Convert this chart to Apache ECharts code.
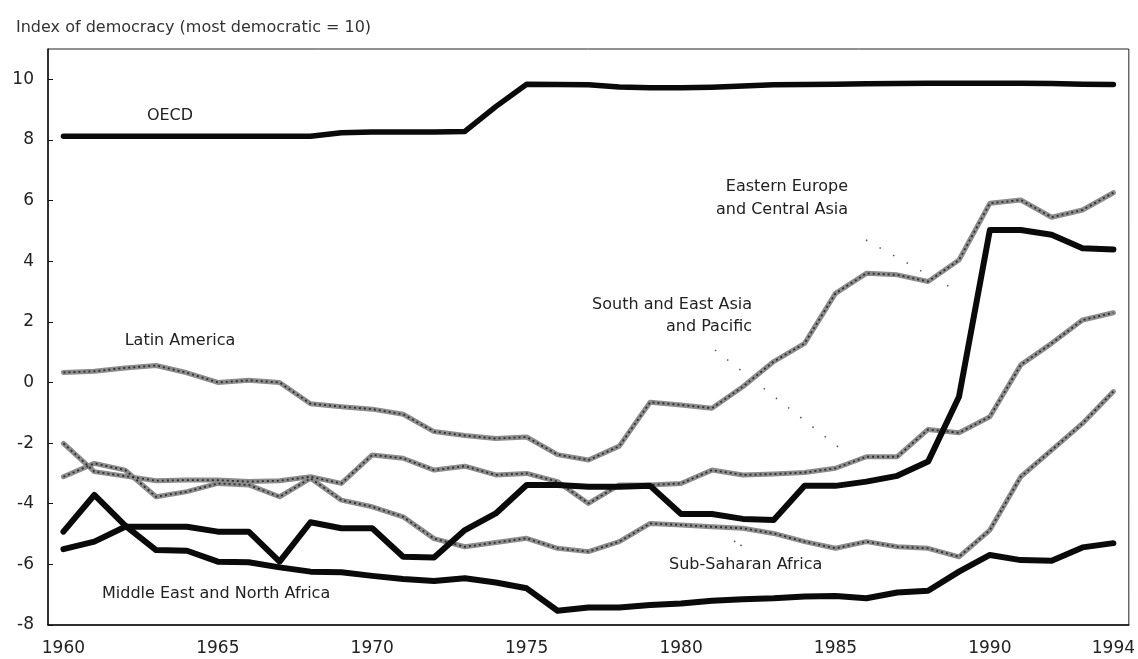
<!DOCTYPE html>
<html>
<head>
<meta charset="utf-8">
<script src="https://cdn.jsdelivr.net/npm/echarts@6/dist/echarts.min.js"></script>
<style>html,body{margin:0;padding:0;background:#fff}#c{width:1138px;height:659px}</style>
</head>
<body>
<div id="c"></div>
<script>
const years = ['1960','1961','1962','1963','1964','1965','1966','1967','1968','1969','1970','1971','1972','1973','1974','1975','1976','1977','1978','1979','1980','1981','1982','1983','1984','1985','1986','1987','1988','1989','1990','1991','1992','1993','1994'];
const labeledYears = ['1960','1965','1970','1975','1980','1985','1990','1994'];

const oecd = [8.12,8.12,8.12,8.12,8.12,8.12,8.12,8.12,8.12,8.24,8.26,8.26,8.26,8.28,9.1,9.84,9.83,9.82,9.75,9.72,9.72,9.74,9.78,9.82,9.83,9.84,9.85,9.86,9.87,9.87,9.87,9.87,9.86,9.84,9.83];
const latinAmerica = [0.33,0.37,0.48,0.56,0.32,0.0,0.07,0.0,-0.7,-0.8,-0.88,-1.05,-1.62,-1.75,-1.85,-1.8,-2.38,-2.56,-2.1,-0.65,-0.74,-0.85,-0.14,0.69,1.29,2.94,3.6,3.55,3.33,4.04,5.91,6.02,5.45,5.69,6.26];
const southEastAsia = [-2.01,-2.94,-3.09,-3.24,-3.22,-3.22,-3.27,-3.24,-3.11,-3.33,-2.39,-2.5,-2.89,-2.76,-3.05,-3.0,-3.27,-3.99,-3.38,-3.38,-3.33,-2.89,-3.05,-3.02,-2.97,-2.83,-2.45,-2.45,-1.55,-1.66,-1.13,0.58,1.29,2.06,2.3];
const subSaharan = [-3.11,-2.67,-2.89,-3.77,-3.6,-3.33,-3.38,-3.77,-3.16,-3.88,-4.1,-4.43,-5.15,-5.42,-5.28,-5.14,-5.47,-5.58,-5.25,-4.65,-4.7,-4.76,-4.81,-4.98,-5.25,-5.47,-5.25,-5.42,-5.47,-5.75,-4.87,-3.11,-2.23,-1.35,-0.3];
const easternEurope = [-5.5,-5.25,-4.76,-4.76,-4.76,-4.92,-4.92,-5.91,-4.61,-4.81,-4.81,-5.75,-5.77,-4.87,-4.32,-3.38,-3.38,-3.44,-3.44,-3.41,-4.34,-4.34,-4.5,-4.54,-3.41,-3.41,-3.27,-3.08,-2.61,-0.47,5.03,5.03,4.87,4.43,4.39];
const middleEast = [-4.92,-3.71,-4.72,-5.53,-5.55,-5.91,-5.93,-6.1,-6.24,-6.26,-6.38,-6.48,-6.55,-6.46,-6.6,-6.79,-7.53,-7.42,-7.42,-7.34,-7.29,-7.2,-7.15,-7.12,-7.06,-7.04,-7.12,-6.93,-6.87,-6.24,-5.69,-5.86,-5.88,-5.44,-5.3];

const FONT = 'DejaVu Sans';

function blackLine(name, data, w) {
  return { name, type: 'line', data, symbol: 'none', z: 5,
    lineStyle: { color: '#0a0a0a', width: w, cap: 'round', join: 'round' } };
}
function grayLine(name, data) {
  return [
    { name, type: 'line', data, symbol: 'none', z: 3,
      lineStyle: { color: '#8c8c8c', width: 5, cap: 'round', join: 'round' } },
    { name: name + ' texture', type: 'line', data, symbol: 'none', z: 4,
      lineStyle: { color: '#2e2e2e', width: 1.8, type: [2, 3], join: 'round' } }
  ];
}

const chart = echarts.init(document.getElementById('c'), null, { renderer: 'canvas' });
const showIdx = (i, v) => labeledYears.indexOf(v) >= 0;

chart.setOption({
  animation: false,
  backgroundColor: '#fff',
  title: {
    text: 'Index of democracy (most democratic = 10)',
    left: 11, top: 15,
    textStyle: { fontFamily: FONT, fontSize: 16, fontWeight: 'normal', color: '#333' }
  },
  grid: { left: 48, right: 7, top: 49, bottom: 34, show: true, borderColor: '#222', borderWidth: 1 },
  xAxis: {
    type: 'category', data: years, boundaryGap: true,
    axisLine: { onZero: false, lineStyle: { color: '#111', width: 1.5 } },
    axisTick: { inside: true, length: 5, alignWithLabel: true, interval: showIdx, lineStyle: { color: '#111' } },
    axisLabel: { interval: showIdx, margin: 15, fontFamily: FONT, fontSize: 17, color: '#222' },
    splitLine: { show: false }
  },
  yAxis: {
    type: 'value', min: -8, max: 11, interval: 2,
    axisLine: { show: true, onZero: false, lineStyle: { color: '#111', width: 1.5 } },
    axisTick: { show: true, inside: true, length: 5, lineStyle: { color: '#111' } },
    axisLabel: { margin: 14, fontFamily: FONT, fontSize: 17, color: '#222', showMaxLabel: false,
      formatter: v => (v > 10 ? '' : String(v)) },
    splitLine: { show: false }
  },
  series: [
    ...grayLine('Latin America', latinAmerica),
    ...grayLine('South and East Asia and Pacific', southEastAsia),
    ...grayLine('Sub-Saharan Africa', subSaharan),
    blackLine('OECD', oecd, 5.5),
    blackLine('Eastern Europe and Central Asia', easternEurope, 6),
    blackLine('Middle East and North Africa', middleEast, 6)
  ],
  graphic: [
    { type: 'text', style: { x: 170, y: 116, text: 'OECD', align: 'center', verticalAlign: 'middle', font: '16px "DejaVu Sans"', fill: '#222' } },
    { type: 'text', style: { x: 180, y: 341, text: 'Latin America', align: 'center', verticalAlign: 'middle', font: '16px "DejaVu Sans"', fill: '#222' } },
    { type: 'text', style: { x: 848, y: 198, text: 'Eastern Europe\nand Central Asia', lineHeight: 23, align: 'right', verticalAlign: 'middle', font: '16px "DejaVu Sans"', fill: '#222' } },
    { type: 'text', style: { x: 752, y: 316, text: 'South and East Asia\nand Pacific', lineHeight: 22, align: 'right', verticalAlign: 'middle', font: '16px "DejaVu Sans"', fill: '#222' } },
    { type: 'text', style: { x: 669, y: 565, text: 'Sub-Saharan Africa', align: 'left', verticalAlign: 'middle', font: '16px "DejaVu Sans"', fill: '#222' } },
    { type: 'text', style: { x: 102, y: 594, text: 'Middle East and North Africa', align: 'left', verticalAlign: 'middle', font: '16px "DejaVu Sans"', fill: '#222' } },
    { type: 'polyline', shape: { points: [[866, 240], [957, 291]] }, style: { stroke: '#555', lineWidth: 1.5, lineDash: [1.5, 14] } },
    { type: 'polyline', shape: { points: [[715, 350], [842, 450]] }, style: { stroke: '#555', lineWidth: 1.5, lineDash: [1.5, 14] } },
    { type: 'polyline', shape: { points: [[734, 541], [742, 546]] }, style: { stroke: '#555', lineWidth: 1.5, lineDash: [1.5, 6] } }
  ]
});
</script>
</body>
</html>
